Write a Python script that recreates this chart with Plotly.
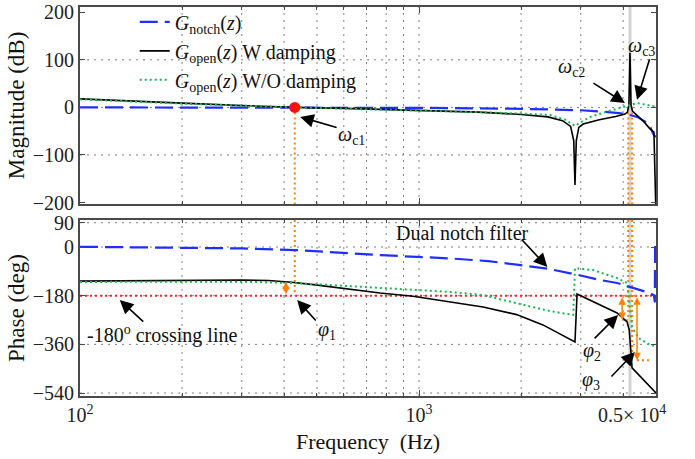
import numpy as np
import plotly.graph_objects as go

# ---------------- data ----------------
# magnitude (dB)
f_mag_notch = [100, 300, 1000, 2000, 3000, 3500, 3900, 4190, 4400, 4700, 4800, 4900, 4950, 5000]
mag_notch = [0, 0, -1, -3, -6, -9, -12, -16, -20, -32, -40, -55, -60, -62]

f_mag_w = [100, 150, 200, 300, 430, 600, 1000, 1500, 2000, 2400, 2650, 2800, 2860, 2884, 2910,
           2960, 3050, 3400, 3800, 4050, 4120, 4160, 4190, 4220, 4260, 4400, 4600, 4800, 4930, 4990]
mag_w = [18, 12, 9, 4, 0, -2, -6, -10, -15, -20, -28, -40, -70, -163, -70,
         -42, -35, -26, -19, -14, -10, 5, 115, 5, -8, -17, -30, -45, -52, -203]

f_mag_wo = [100, 200, 430, 1000, 1500, 2000, 2433, 2700, 2884, 3050, 3200, 3575, 3980, 4395, 4895, 5000]
mag_wo = [17, 8, 0, -6, -10, -13, -16, -26, -39, -28, -20, -9, 0, 9, 3, 2]

# phase (deg)
f_ph_notch = [100, 200, 300, 430, 770, 1234, 1600, 1940, 2390, 2925, 3420, 3838, 4300, 4800, 4930, 4960, 4970, 5000]
ph_notch = [1, -3, -5, -11, -30, -42, -52, -65, -80, -102, -122, -133, -152, -170, -178, -205, 0, 0]

f_ph_w = [100, 200, 300, 360, 420, 488, 612, 767, 960, 1207, 1545, 1940, 2320, 2884, 2925, 3838, 4110, 4170, 4250, 5000]
ph_w = [-126, -122, -122, -124, -130, -139, -154, -170, -182, -200, -222, -250, -288, -351, -174, -244, -277, -307, -447, -540]

f_ph_wo = [100, 300, 430, 767, 1234, 1545, 1940, 2433, 2850, 2884, 3260, 3838, 4110, 4170, 4250, 4440, 4800, 5000]
ph_wo = [-129, -128, -133, -152, -166, -178, -207, -237, -251, -78, -85, -115, -133, -196, -296, -337, -362, -366]

# characteristic points
f_min, f_max = 100, 5000
wc1, wc2, wc3 = 430, 4140, 4250
f_res = 4190
crossing = -180
phi1_f, phi1_v = 405, -128
phi2_f, phi2_v = 3972, -270
phi3_f, phi3_v = 4395, -419
phi3_stub_end = 4800

mag_range = [-203, 211]
ph_range = [-551, 100]
mag_ticks = [-200, -100, 0, 100, 200]
ph_ticks = [90, 0, -180, -360, -540]
x_major = [100, 1000, 5000]
x_major_text = ["10<sup>2</sup>", "10<sup>3</sup>", " "]
x_minor = [200, 300, 400, 500, 600, 700, 800, 900, 2000, 3000, 4000]

# ---------------- styles ----------------
FONT = "Liberation Serif, Times New Roman, serif"
BLUE = "#1f2fff"
GREEN = "#16b84e"
RED = "#ff2020"
ORANGE = "#ff8000"
GREY = "#d2d2d2"
AX = "#4a4a4a"
GRID = dict(color="#808080", width=1, dash="2px,5px")

fig = go.Figure()

def add(x, y, panel, **kw):
    xa, ya = ("x", "y") if panel == 1 else ("x2", "y2")
    fig.add_trace(go.Scatter(x=x, y=y, xaxis=xa, yaxis=ya, mode="lines", **kw))

# ---- dotted grid drawn from the tick arrays ----
def grid_traces(panel, yrng, yticks):
    gx, gy = [], []
    for f in x_minor + [x_major[1]]:
        gx += [f, f, None]
        gy += [yrng[0], yrng[1], None]
    for v in yticks:
        if yrng[0] < v < yrng[1]:
            gx += [f_min, f_max, None]
            gy += [v, v, None]
    add(gx, gy, panel, line=GRID, showlegend=False, hoverinfo="skip")

grid_traces(1, mag_range, mag_ticks[1:-1])
grid_traces(2, ph_range, ph_ticks)

# grey resonance marker lines
add([f_res, f_res], mag_range, 1, line=dict(color=GREY, width=3), showlegend=False, hoverinfo="skip")
add([f_res, f_res], ph_range, 2, line=dict(color=GREY, width=3), showlegend=False, hoverinfo="skip")

# -180 crossing line
add([f_min, f_max], [crossing, crossing], 2, line=dict(color=RED, width=2, dash="2px,3px"), showlegend=False)

# orange dotted verticals
odot = dict(color=ORANGE, width=2, dash="2px,3px")
add([wc1, wc1], [0, mag_range[0]], 1, line=odot, showlegend=False)
add([wc1, wc1], [ph_range[1], crossing], 2, line=odot, showlegend=False)
add([wc2, wc2], [0, mag_range[0]], 1, line=odot, showlegend=False)
add([wc3, wc3], [0, mag_range[0]], 1, line=odot, showlegend=False)
add([wc2, wc2], [ph_range[1], phi2_v], 2, line=odot, showlegend=False)
add([wc3, wc3], [ph_range[1], phi3_v], 2, line=odot, showlegend=False)
add([phi3_f, phi3_stub_end], [phi3_v, phi3_v], 2, line=odot, showlegend=False)
add([phi2_f, phi3_f], [crossing, crossing], 2, line=dict(color=ORANGE, width=1.5), showlegend=False)
add([phi2_f, wc2], [phi2_v, phi2_v], 2, line=dict(color=ORANGE, width=1.5), showlegend=False)

# main curves – magnitude (legend entries)
add(f_mag_notch, mag_notch, 1, name="<i>G</i><sub>notch</sub>(<i>z</i>)",
    line=dict(color=BLUE, width=2.2, dash="18px,7px"))
add(f_mag_w, mag_w, 1, name="<i>G</i><sub>open</sub>(<i>z</i>) W damping",
    line=dict(color="black", width=1.6))
add(f_mag_wo, mag_wo, 1, name="<i>G</i><sub>open</sub>(<i>z</i>) W/O damping",
    line=dict(color=GREEN, width=2, dash="2px,3px"))

# main curves – phase
add(f_ph_w, ph_w, 2, line=dict(color="black", width=1.6), showlegend=False)
add(f_ph_wo, ph_wo, 2, line=dict(color=GREEN, width=2, dash="2px,3px"), showlegend=False)
add(f_ph_notch, ph_notch, 2, line=dict(color=BLUE, width=2.2, dash="18px,7px"), showlegend=False)

# red crossing dot
fig.add_trace(go.Scatter(x=[wc1], y=[0], xaxis="x", yaxis="y", mode="markers",
                         marker=dict(color="#ff1010", size=11), showlegend=False))

# ---------------- annotations ----------------
L = np.log10
# black arrows: (freq, value, panel, ax, ay)
arrows = [
    (446, -20, 1, 38, 11),
    (4050, 9, 1, -33, -21),
    (4395, 16, 1, 13, -42),
    (2390, -74, 2, -27, -29),
    (131, -196, 2, 25, 23),
    (437, -196, 2, 20, 22),
    (3865, -251, 2, -25, 25),
    (4335, -388, 2, -25, 26),
]
for f, v, p, ax, ay in arrows:
    fig.add_annotation(x=L(f), y=v, xref="x" if p == 1 else "x2", yref="y" if p == 1 else "y2",
                       text="", showarrow=True, ax=ax, ay=ay, arrowhead=2, arrowsize=1.7,
                       arrowwidth=1.6, arrowcolor="black")

# labels: (text, freq, value, panel)
labels = [
    ("<i>ω</i><sub>c1</sub>", 634, -60, 1),
    ("<i>ω</i><sub>c2</sub>", 2825, 83, 1),
    ("<i>ω</i><sub>c3</sub>", 4520, 127, 1),
    ("Dual notch filter", 1340, 52, 2),
    ("-180<sup>o</sup> crossing line", 174, -325, 2),
    ("<i>φ</i><sub>1</sub>", 535, -307, 2),
    ("<i>φ</i><sub>2</sub>", 3236, -388, 2),
    ("<i>φ</i><sub>3</sub>", 3213, -492, 2),
]
for t, f, v, p in labels:
    fig.add_annotation(x=L(f), y=v, xref="x" if p == 1 else "x2", yref="y" if p == 1 else "y2",
                       text=t, showarrow=False, font=dict(family=FONT, size=20, color="#111"))

# phase-margin double arrows (orange)
for f, v in [(phi1_f, phi1_v), (phi2_f, phi2_v), (phi3_f, phi3_v)]:
    fig.add_annotation(x=L(f), y=v, xref="x2", yref="y2", ax=L(f), ay=crossing,
                       axref="x2", ayref="y2", text="", showarrow=True, arrowside="end+start",
                       arrowhead=2, arrowsize=1.0, arrowwidth=1.5, arrowcolor=ORANGE)

# right-hand x tick label
fig.add_annotation(x=1, y=0, xref="x2 domain", yref="paper", xanchor="right", yanchor="top",
                   xshift=12, yshift=-4, text="0.5× 10<sup>4</sup>", showarrow=False,
                   font=dict(family=FONT, size=20, color="#222"))

# ---------------- axes ----------------
xcommon = dict(type="log", range=[L(f_min), L(f_max)], showline=True, linecolor=AX, linewidth=1.8,
               mirror="ticks", ticks="inside", ticklen=6, tickcolor=AX, tickvals=x_major,
               ticktext=x_major_text, zeroline=False, automargin=False, showgrid=False,
               minor=dict(tickvals=x_minor, ticks="inside", ticklen=3, tickcolor=AX, showgrid=False),
               tickfont=dict(family=FONT, size=20, color="#222"))
ycommon = dict(showline=True, linecolor=AX, linewidth=1.8, mirror="ticks", ticks="inside",
               ticklen=5, tickcolor=AX, zeroline=False, automargin=False, showgrid=False,
               tickfont=dict(family=FONT, size=20, color="#222"))

fig.update_layout(
    width=695, height=459,
    margin=dict(l=80, r=39, t=7, b=63, autoexpand=False),
    paper_bgcolor="white", plot_bgcolor="white",
    font=dict(family=FONT, size=20, color="#111"),
    xaxis=dict(domain=[0, 1], anchor="y", showticklabels=False, matches="x2", **xcommon),
    xaxis2=dict(domain=[0, 1], anchor="y2",
                title=dict(text="Frequency&nbsp;&nbsp;(Hz)", font=dict(family=FONT, size=22), standoff=9),
                **xcommon),
    yaxis=dict(domain=[0.4936, 1], anchor="x", range=mag_range, tickvals=mag_ticks,
               title=dict(text="Magnitude (dB)", font=dict(family=FONT, size=23), standoff=2), **ycommon),
    yaxis2=dict(domain=[0, 0.4524], anchor="x2", range=ph_range, tickvals=ph_ticks,
                title=dict(text="Phase (deg)", font=dict(family=FONT, size=23), standoff=2), **ycommon),
    legend=dict(x=0.095, y=1.012, xanchor="left", yanchor="top", bgcolor="rgba(0,0,0,0)",
                font=dict(family=FONT, size=20, color="#111"), tracegroupgap=0),
    showlegend=True,
)

fig.write_html("out.html")
